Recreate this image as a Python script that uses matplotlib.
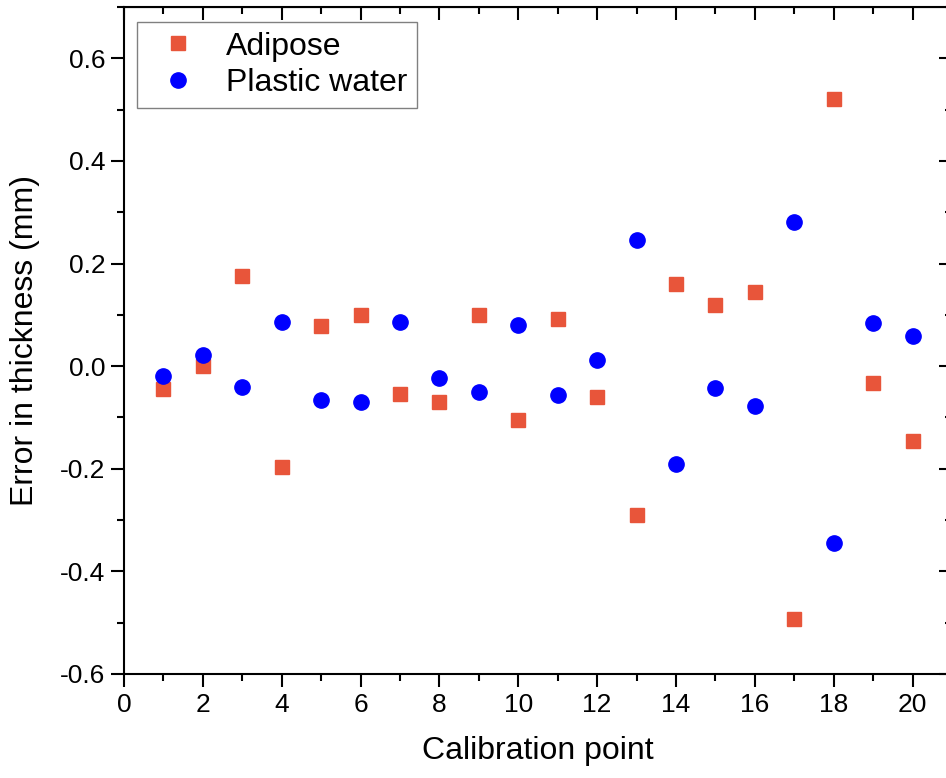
import numpy as np
import matplotlib.pyplot as plt
from matplotlib.ticker import MultipleLocator

plt.rcParams['font.family'] = ['Liberation Sans', 'DejaVu Sans']

# calibration points
points = np.arange(1, 21)

# error in thickness (mm)
adipose = [-0.045, 0.0, 0.176, -0.197, 0.078, 0.100, -0.055, -0.070, 0.100, -0.105,
           0.092, -0.060, -0.291, 0.160, 0.119, 0.145, -0.492, 0.520, -0.033, -0.145]
plastic_water = [-0.020, 0.021, -0.041, 0.086, -0.066, -0.070, 0.087, -0.023, -0.051, 0.080,
                 -0.057, 0.012, 0.246, -0.190, -0.043, -0.078, 0.281, -0.344, 0.084, 0.059]

fig = plt.figure(figsize=(9.46, 7.78), dpi=100)
ax = fig.add_axes([0.131, 0.1337, 0.8753, 0.8573])

ax.plot(points, adipose, 's', color='#E8553A', markersize=10, label='Adipose')
ax.plot(points, plastic_water, 'o', color='#0000FF', markersize=11, label='Plastic water')

ax.set_xlim(0, 21)
ax.set_ylim(-0.6, 0.7)
ax.xaxis.set_major_locator(MultipleLocator(2))
ax.xaxis.set_minor_locator(MultipleLocator(1))
ax.yaxis.set_major_locator(MultipleLocator(0.2))
ax.yaxis.set_minor_locator(MultipleLocator(0.1))
ax.set_xticks(np.arange(0, 21, 2))
ax.set_yticks(np.arange(-0.6, 0.61, 0.2))
ax.set_yticklabels([f'{v:.1f}' for v in np.arange(-0.6, 0.61, 0.2)])

for s in ax.spines.values():
    s.set_linewidth(1.5)
ax.tick_params(which='both', direction='out', width=1.5, labelsize=19, top=False, right=False)
ax.tick_params(which='major', length=9.5, pad=4)
ax.tick_params(which='minor', length=5)

# inward ticks on top and right
top = ax.secondary_xaxis('top')
top.xaxis.set_major_locator(MultipleLocator(2))
top.xaxis.set_minor_locator(MultipleLocator(1))
top.tick_params(which='both', direction='in', width=1.5, labeltop=False)
top.tick_params(which='major', length=9.5)
top.tick_params(which='minor', length=5)
right = ax.secondary_yaxis('right')
right.yaxis.set_major_locator(MultipleLocator(0.2))
right.yaxis.set_minor_locator(MultipleLocator(0.1))
right.tick_params(which='both', direction='in', width=1.5, labelright=False)
right.tick_params(which='major', length=9.5)
right.tick_params(which='minor', length=5)

ax.set_xlabel('Calibration point', fontsize=23, labelpad=14)
ax.set_ylabel('Error in thickness (mm)', fontsize=23, labelpad=14)

leg = ax.legend(loc='upper left', fontsize=23, fancybox=False, edgecolor='#808080',
                framealpha=1, borderpad=0.3, handletextpad=0.5, labelspacing=0.2,
                handlelength=2.0, borderaxespad=0, bbox_to_anchor=(0.0157, 0.9775))
leg.get_frame().set_linewidth(1.0)

fig.savefig('out.png', dpi=100)
